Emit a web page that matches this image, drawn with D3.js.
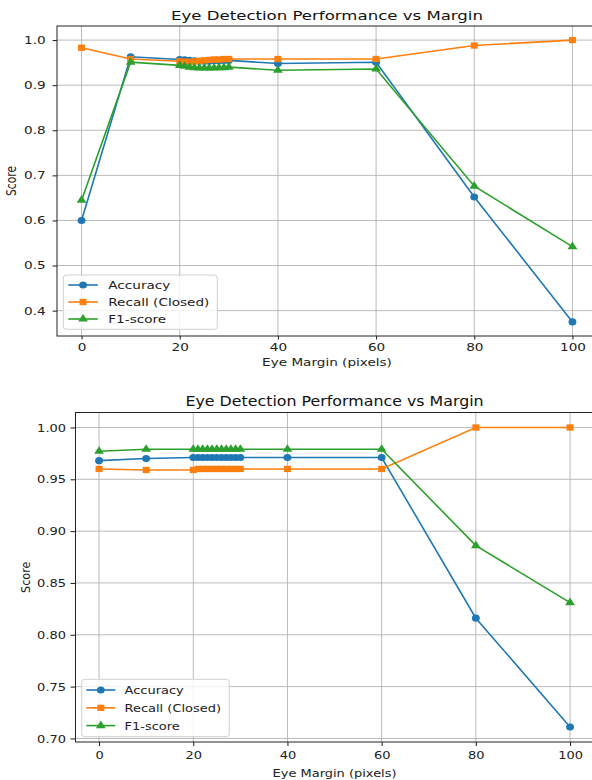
<!DOCTYPE html>
<html>
<head>
<meta charset="utf-8">
<script src="https://cdn.jsdelivr.net/npm/d3@7"></script>
<style>
  html, body { margin: 0; padding: 0; background: #fff; }
  svg { display: block; font-family: "DejaVu Sans", sans-serif; }
</style>
</head>
<body>
<svg id="chart" width="592" height="780"></svg>
<script>
// Eye margin values (pixels) shared by both panels
const margins = [0, 10, 20, 21, 22, 23, 24, 25, 26, 27, 28, 29, 30, 40, 60, 80, 100];

// Panel 1 scores
const accuracyA = [0.600, 0.963, 0.957, 0.956, 0.955, 0.954, 0.953, 0.953, 0.953, 0.954, 0.954, 0.955, 0.955, 0.948, 0.951, 0.652, 0.375];
const recallA   = [0.983, 0.958, 0.953, 0.952, 0.952, 0.953, 0.954, 0.955, 0.956, 0.957, 0.957, 0.958, 0.958, 0.958, 0.958, 0.988, 1.000];
const f1A       = [0.645, 0.951, 0.944, 0.942, 0.940, 0.939, 0.938, 0.938, 0.938, 0.938, 0.939, 0.939, 0.940, 0.933, 0.936, 0.676, 0.542];

// Panel 2 scores
const accuracyB = [0.968, 0.970, 0.971, 0.971, 0.971, 0.971, 0.971, 0.971, 0.971, 0.971, 0.971, 0.971, 0.971, 0.971, 0.971, 0.816, 0.711];
const recallB   = [0.960, 0.959, 0.959, 0.960, 0.960, 0.960, 0.960, 0.960, 0.960, 0.960, 0.960, 0.960, 0.960, 0.960, 0.960, 1.000, 1.000];
const f1B       = [0.977, 0.979, 0.979, 0.979, 0.979, 0.979, 0.979, 0.979, 0.979, 0.979, 0.979, 0.979, 0.979, 0.979, 0.979, 0.886, 0.831];

const xTicks = [0, 20, 40, 60, 80, 100];
const yTicksA = [0.4, 0.5, 0.6, 0.7, 0.8, 0.9, 1.0];
const yTicksB = [0.70, 0.75, 0.80, 0.85, 0.90, 0.95, 1.00];

const seriesNames = ["Accuracy", "Recall (Closed)", "F1-score"];
const colors = ["#1f77b4", "#ff7f0e", "#2ca02c"];
const shapes = [d3.symbolCircle, d3.symbolSquare, d3.symbolTriangle];
const shapeSizes = [40, 40, 34];

const svg = d3.select("#chart");

function padded(lo, hi) {
  const m = (hi - lo) * 0.05;
  return [lo - m, hi + m];
}

// text drawn with a horizontal stretch about its anchor point
function wideText(parent, x, y, sx, str, fs, anchor) {
  return parent.append("text")
    .attr("transform", `translate(${x},${y}) scale(${sx},1)`)
    .attr("text-anchor", anchor || "start")
    .attr("font-size", fs).attr("fill", "#222").text(str);
}

function drawPanel(opts) {
  const { box, series, yTicks, yFmt, titleY, xLabelY, yLabelX, fs, sx, ax, leg } = opts;
  const titleFs = fs * 1.22;
  const allY = series.flat();
  const x = d3.scaleLinear().domain(padded(d3.min(margins), d3.max(margins))).range([box.left, box.right]);
  const y = d3.scaleLinear().domain(padded(d3.min(allY), d3.max(allY))).range([box.bottom, box.top]);

  const g = svg.append("g");

  // grid
  g.append("g").selectAll("line").data(xTicks).join("line")
    .attr("x1", d => x(d)).attr("x2", d => x(d))
    .attr("y1", box.top).attr("y2", box.bottom)
    .attr("stroke", "#b0b0b0").attr("stroke-width", 1).attr("opacity", 0.85);
  g.append("g").selectAll("line").data(yTicks).join("line")
    .attr("x1", box.left).attr("x2", box.right)
    .attr("y1", d => y(d)).attr("y2", d => y(d))
    .attr("stroke", "#b0b0b0").attr("stroke-width", 1).attr("opacity", 0.85);

  // axes
  const xAxis = d3.axisBottom(x).tickValues(xTicks).tickSize(ax.xTick).tickPadding(ax.xPad).tickFormat(d3.format("d"));
  const yAxis = d3.axisLeft(y).tickValues(yTicks).tickSize(ax.yTick).tickPadding(ax.yPad).tickFormat(yFmt);
  const gx = g.append("g").attr("transform", `translate(0,${box.bottom})`).call(xAxis);
  const gy = g.append("g").attr("transform", `translate(${box.left},0)`).call(yAxis);
  [gx, gy].forEach(a => {
    a.select(".domain").remove();
    a.selectAll(".tick line").attr("stroke", "#000").attr("stroke-width", 0.9);
    a.selectAll(".tick text").attr("fill", "#222").attr("font-size", fs)
      .attr("font-family", "DejaVu Sans, sans-serif")
      .each(function () {
        const t = d3.select(this);
        const tx = +t.attr("x") || 0;
        t.attr("x", tx / sx).attr("transform", `scale(${sx},1)`);
      });
  });

  // spines
  g.append("rect")
    .attr("x", box.left).attr("y", box.top)
    .attr("width", box.right - box.left).attr("height", box.bottom - box.top)
    .attr("fill", "none").attr("stroke", "#222").attr("stroke-width", 1);

  // series
  const line = d3.line().x((d, i) => x(margins[i])).y(d => y(d));
  series.forEach((vals, k) => {
    const sg = g.append("g");
    sg.append("path").datum(vals).attr("d", line)
      .attr("fill", "none").attr("stroke", colors[k]).attr("stroke-width", 1.6);
    sg.selectAll("path.m").data(vals).join("path")
      .attr("class", "m")
      .attr("transform", (d, i) => `translate(${x(margins[i])},${y(d)}) scale(1.1,1)`)
      .attr("d", d3.symbol().type(shapes[k]).size(shapeSizes[k]))
      .attr("fill", colors[k]);
  });

  // title and labels
  const cx = (box.left + box.right) / 2;
  wideText(svg, cx, titleY, sx, "Eye Detection Performance vs Margin", titleFs, "middle").attr("fill", "#111");
  wideText(svg, cx, xLabelY, sx, "Eye Margin (pixels)", fs, "middle");
  svg.append("text")
    .attr("transform", `translate(${yLabelX},${(box.top + box.bottom) / 2}) scale(${sx},1) rotate(-90)`)
    .attr("text-anchor", "middle").attr("font-size", fs).attr("fill", "#222").text("Score");

  // legend
  const lg = svg.append("g").attr("transform", `translate(${leg.x},${leg.y})`);
  lg.append("rect").attr("x", 0).attr("y", 0).attr("width", leg.w).attr("height", leg.h)
    .attr("rx", 3).attr("fill", "#fff").attr("fill-opacity", 0.8)
    .attr("stroke", "#d0d0d0").attr("stroke-width", 1);
  seriesNames.forEach((name, k) => {
    const ry = leg.row0 + k * leg.step;
    lg.append("line").attr("x1", leg.h0).attr("x2", leg.h1).attr("y1", ry).attr("y2", ry)
      .attr("stroke", colors[k]).attr("stroke-width", 1.6);
    lg.append("path").attr("transform", `translate(${(leg.h0 + leg.h1) / 2},${ry}) scale(1.1,1)`)
      .attr("d", d3.symbol().type(shapes[k]).size(shapeSizes[k])).attr("fill", colors[k]);
    wideText(lg, leg.tx, ry + fs * 0.36, sx, name, fs);
  });
}

drawPanel({
  box: { left: 57, right: 597, top: 26, bottom: 336 },
  series: [accuracyA, recallA, f1A],
  yTicks: yTicksA, yFmt: d3.format(".1f"),
  titleY: 19.5, xLabelY: 365.5, yLabelX: 16, fs: 10.7, sx: 1.27,
  ax: { xTick: 3.5, xPad: 4, yTick: 4.4, yPad: 7 },
  leg: { x: 63.3, y: 275, w: 154, h: 54.3, row0: 10, step: 17, h0: 5, h1: 34.5, tx: 45 }
});

drawPanel({
  box: { left: 75.5, right: 593.6, top: 412.5, bottom: 742 },
  series: [accuracyB, recallB, f1B],
  yTicks: yTicksB, yFmt: d3.format(".2f"),
  titleY: 405.5, xLabelY: 777, yLabelX: 29.5, fs: 11.2, sx: 1.16,
  ax: { xTick: 4, xPad: 5, yTick: 5, yPad: 4.5 },
  leg: { x: 81.7, y: 679.3, w: 147.6, h: 57.4, row0: 10.7, step: 17.8, h0: 4.6, h1: 33.6, tx: 42.8 }
});
</script>
</body>
</html>
